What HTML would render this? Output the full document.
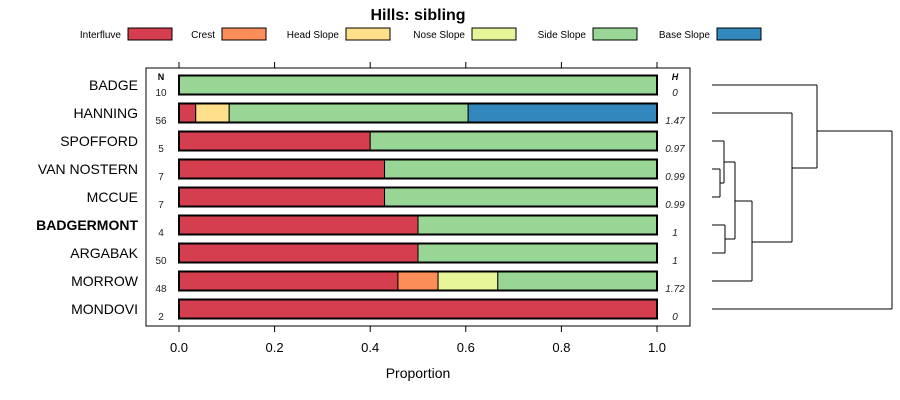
<!DOCTYPE html>
<html><head><meta charset="utf-8"><style>
body{margin:0;background:#fff}
svg{display:block;font-family:"Liberation Sans",sans-serif}
</style></head><body>
<svg id="c" width="900" height="400" viewBox="0 0 900 400">
<text x="418" y="20" text-anchor="middle" font-size="16" font-weight="bold">Hills: sibling</text>
<g id="legend"></g>
<rect x="146" y="68" width="544" height="258" fill="none" stroke="#000" stroke-width="1"/>
<g id="bars"></g>
<g id="axes"></g>
<text x="418" y="378" text-anchor="middle" font-size="14">Proportion</text>
<text x="161" y="80" text-anchor="middle" font-size="9" font-weight="bold">N</text>
<text x="675" y="80" text-anchor="middle" font-size="9" font-weight="bold" font-style="italic">H</text>
<g id="dendro" fill="none" stroke="#000" stroke-width="1">
<path d="M712 85H817 M712 113H792 M712 141H724 M712 169H720 M712 197H720 M720 169V197 M720 183H724 M724 141V183 M724 162H735 M712 225H725 M712 253H725 M725 225V253 M725 239H735 M735 162V239 M735 201H752 M712 281H752 M752 201V281 M752 242H792 M792 113V242 M792 168H817 M817 85V168 M817 131H892 M712 309H892 M892 131V309"/>
</g>
</svg>
<script>
const categories=["BADGE","HANNING","SPOFFORD","VAN NOSTERN","MCCUE","BADGERMONT","ARGABAK","MORROW","MONDOVI"];
const classes=["Interfluve","Crest","Head Slope","Nose Slope","Side Slope","Base Slope"];
const colors=["#D53E4F","#FC8D59","#FEE08B","#E6F598","#99D594","#3288BD"];
const interfluve=[0,0.035,0.4,0.43,0.43,0.5,0.5,0.458,1];
const crest=[0,0,0,0,0,0,0,0.084,0];
const headSlope=[0,0.07,0,0,0,0,0,0,0];
const noseSlope=[0,0,0,0,0,0,0,0.125,0];
const sideSlope=[1,0.5,0.6,0.57,0.57,0.5,0.5,0.333,0];
const baseSlope=[0,0.395,0,0,0,0,0,0,0];
const nValues=["10","56","5","7","7","4","50","48","2"];
const hValues=["0","1.47","0.97","0.99","0.99","1","1","1.72","0"];
const ticks=[0,0.2,0.4,0.6,0.8,1.0];
const tickLabels=["0.0","0.2","0.4","0.6","0.8","1.0"];
const legendTextX=[121,215,339,465,586,710];
const NS="http://www.w3.org/2000/svg";
const X=v=>179+v*478;
const Y=i=>85+i*28;
function el(t,a,p){const e=document.createElementNS(NS,t);for(const k in a)e.setAttribute(k,a[k]);p.appendChild(e);return e;}
const series=[interfluve,crest,headSlope,noseSlope,sideSlope,baseSlope];
const bars=document.getElementById('bars');
categories.forEach((c,i)=>{
  const lab=el('text',{x:138,y:Y(i)+5,'text-anchor':'end','font-size':14,'font-weight':c==="BADGERMONT"?'bold':'normal'},bars);lab.textContent=c;
  
  
  let cum=0;
  series.forEach((s,k)=>{
    if(s[i]<=0)return;
    const r=el('rect',{x:X(cum),y:Y(i)-9.5,width:X(cum+s[i])-X(cum),height:19,fill:colors[k],stroke:'#000','stroke-width':1},bars);
    
    
    cum+=s[i];
  });
  el('rect',{x:X(0),y:Y(i)-9.5,width:X(1)-X(0),height:19,fill:'none',stroke:'#000','stroke-width':2},bars);
  const n=el('text',{x:161,y:Y(i)+11,'text-anchor':'middle','font-size':10,fill:'#222'},bars);n.textContent=nValues[i];
  
  
  const h=el('text',{x:675,y:Y(i)+11,'text-anchor':'middle','font-size':10,'font-style':'italic',fill:'#222'},bars);h.textContent=hValues[i];
  
  
});
const ax=document.getElementById('axes');
ticks.forEach((t,i)=>{
  el('line',{x1:X(t),x2:X(t),y1:62,y2:68,stroke:'#000'},ax);
  el('line',{x1:X(t),x2:X(t),y1:326,y2:332,stroke:'#000'},ax);
  const tl=el('text',{x:X(t),y:352,'text-anchor':'middle','font-size':13},ax);tl.textContent=tickLabels[i];
  
  
});
const lg=document.getElementById('legend');
classes.forEach((c,k)=>{
  const t=el('text',{x:legendTextX[k],y:38,'text-anchor':'end','font-size':10},lg);t.textContent=c;
  
  
  const r=el('rect',{x:legendTextX[k]+7,y:28,width:44,height:12,fill:colors[k],stroke:'#000'},lg);
  
  
});
</script>
</body></html>
